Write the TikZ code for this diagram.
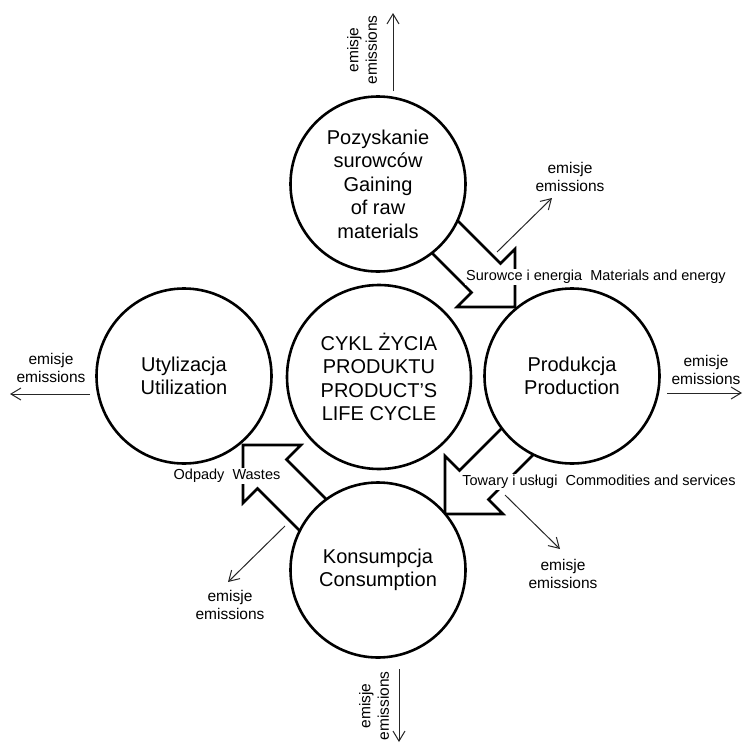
\documentclass[tikz,border=0pt]{standalone}
\usepackage{fontspec}
\setmainfont{Liberation Sans}
\usetikzlibrary{arrows.meta}

\tikzset{
    stage/.style={circle, draw, fill=white, line width=2.6pt,
        minimum size=175pt, inner sep=0pt, align=center,
        font=\fontsize{20}{23.5}\selectfont},
    bigflow/.style={draw, fill=white, line width=2.6pt, line join=miter},
    flowlabel/.style={fill=white, inner sep=1.5pt,
        font=\fontsize{14.5}{17}\selectfont},
    emis/.style={align=center, inner sep=0pt,
        font=\fontsize{15.5}{18.5}\selectfont},
    emisarrow/.style={-{Straight Barb[length=10pt,width=12pt]},
        line width=1pt, black!85},
}

\begin{document}
\begin{tikzpicture}[x=1pt, y=1pt]
    \useasboundingbox (0,0) rectangle (744,-744);

    % tips of the three block arrows
    \coordinate (tipGP) at (515,-307);
    \coordinate (tipPK) at (445,-514);
    \coordinate (tipKU) at (243,-445);

    \draw [bigflow, shift={(tipGP)}, rotate=-45]
        (0,0) -- (-41,41) -- (-41,20.5) -- (-185,20.5)
        -- (-185,-20.5) -- (-41,-20.5) -- (-41,-41) -- cycle
        ;
    \draw [bigflow, shift={(tipPK)}, rotate=-135]
        (0,0) -- (-41,41) -- (-41,20.5) -- (-185,20.5)
        -- (-185,-20.5) -- (-41,-20.5) -- (-41,-41) -- cycle
        ;
    \draw [bigflow, shift={(tipKU)}, rotate=135]
        (0,0) -- (-41,41) -- (-41,20.5) -- (-185,20.5)
        -- (-185,-20.5) -- (-41,-20.5) -- (-41,-41) -- cycle
        ;

    \node [stage] (gain) at (378,-184)
        {Pozyskanie\\surowców\\Gaining\\of raw\\materials};
    \node [stage] (util) at (184,-376) {Utylizacja\\Utilization};
    \node [stage, minimum size=184pt] (cycle) at (379,-377)
        {CYKL ŻYCIA\\PRODUKTU\\PRODUCT’S\\LIFE CYCLE};
    \node [stage] (prod) at (572,-376) {Produkcja\\Production};
    \node [stage] (cons) at (378,-570) {Konsumpcja\\Consumption};

    \node [flowlabel] (lblGP) at (596,-277)
        {Surowce i energia\ \ Materials and energy};
    \node [flowlabel] (lblPK) at (599,-482)
        {Towary i usługi\ \ Commodities and services};
    \node [flowlabel] (lblKU) at (227,-476) {Odpady\ \ Wastes};

    % emissions
    \node [emis, rotate=90] (emTop) at (362,-50) {emisje\\emissions};
    \node [emis] (emGP) at (570,-177) {emisje\\emissions};
    \node [emis] (emRight) at (706,-370) {emisje\\emissions};
    \node [emis] (emPK) at (563,-574) {emisje\\emissions};
    \node [emis, rotate=90] (emBottom) at (374,-706) {emisje\\emissions};
    \node [emis] (emKU) at (230,-605) {emisje\\emissions};
    \node [emis] (emLeft) at (51,-368) {emisje\\emissions};

    \coordinate (sTop) at (393,-91);
    \coordinate (eTop) at (393,-13);
    \coordinate (sGP) at (497,-252);
    \coordinate (eGP) at (552,-198);
    \coordinate (sRight) at (667,-393);
    \coordinate (eRight) at (742,-393);
    \coordinate (sPK) at (505,-495);
    \coordinate (ePK) at (560,-549);
    \coordinate (sBottom) at (399,-669);
    \coordinate (eBottom) at (399,-742);
    \coordinate (sKU) at (285,-526);
    \coordinate (eKU) at (228,-582);
    \coordinate (sLeft) at (90,-394);
    \coordinate (eLeft) at (10,-394);

    \draw [emisarrow] (sTop) -- (eTop);
    \draw [emisarrow] (sGP) -- (eGP);
    \draw [emisarrow] (sRight) -- (eRight);
    \draw [emisarrow] (sPK) -- (ePK);
    \draw [emisarrow] (sBottom) -- (eBottom);
    \draw [emisarrow] (sKU) -- (eKU);
    \draw [emisarrow] (sLeft) -- (eLeft);
\end{tikzpicture}
\end{document}
